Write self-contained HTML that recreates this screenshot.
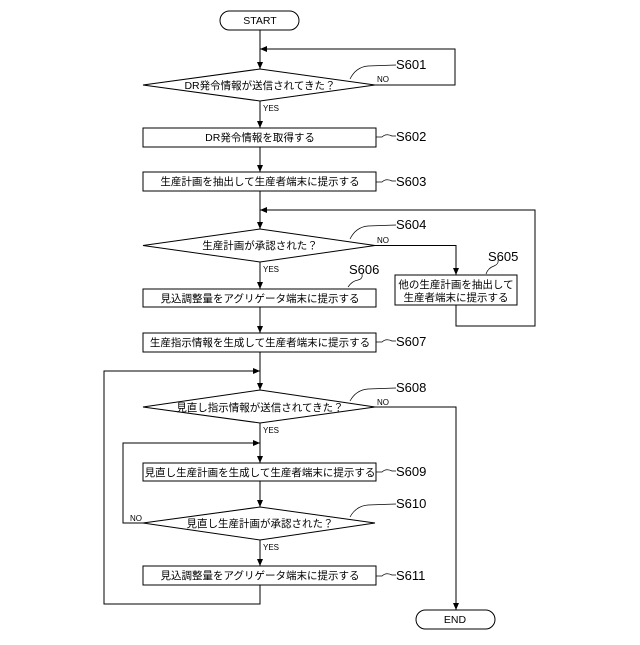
<!DOCTYPE html>
<html><head><meta charset="utf-8"><style>body{margin:0;background:#fff}</style></head><body>
<svg width="640" height="640" viewBox="0 0 640 640" xmlns="http://www.w3.org/2000/svg" font-family="'Liberation Sans','Noto Sans CJK JP',sans-serif">
<defs><marker id="a" markerWidth="8" markerHeight="8" refX="7" refY="4" orient="auto" markerUnits="userSpaceOnUse"><path d="M0,1 L7,4 L0,7z" fill="#000"/></marker></defs>
<g fill="none" stroke="#000" stroke-width="1">
<rect x="220" y="11" width="79" height="19" rx="9.5"/>
<rect x="416" y="610" width="79" height="19" rx="9.5"/>
<polygon points="143,85 260,69 375,85 260,101"/>
<polygon points="143,245.5 260,229 375,245.5 260,262"/>
<polygon points="143,407 260,390 375,407 260,423"/>
<polygon points="143,523 260,507 375,523 260,540"/>
<rect x="143" y="128" width="233" height="19"/>
<rect x="143" y="172" width="233" height="19"/>
<rect x="143" y="289" width="233" height="18"/>
<rect x="395" y="275" width="122" height="30"/>
<rect x="143" y="333" width="233" height="19"/>
<rect x="143" y="463" width="233" height="18"/>
<rect x="143" y="566" width="233" height="19"/>
<line x1="260" y1="30" x2="260" y2="69" marker-end="url(#a)"/>
<polyline points="375,85 455,85 455,49 260,49" marker-end="url(#a)"/>
<line x1="260" y1="101" x2="260" y2="128" marker-end="url(#a)"/>
<line x1="260" y1="147" x2="260" y2="172" marker-end="url(#a)"/>
<line x1="260" y1="191" x2="260" y2="229" marker-end="url(#a)"/>
<polyline points="456,305 456,326 535,326 535,210 260,210" marker-end="url(#a)"/>
<polyline points="375,245.5 456,245.5 456,275" marker-end="url(#a)"/>
<line x1="260" y1="262" x2="260" y2="289" marker-end="url(#a)"/>
<line x1="260" y1="307" x2="260" y2="333" marker-end="url(#a)"/>
<line x1="260" y1="352" x2="260" y2="390" marker-end="url(#a)"/>
<polyline points="260,585 260,604 104,604 104,371 260,371" marker-end="url(#a)"/>
<polyline points="375,407 456,407 456,610" marker-end="url(#a)"/>
<line x1="260" y1="423" x2="260" y2="463" marker-end="url(#a)"/>
<polyline points="143,523 123,523 123,443 260,443" marker-end="url(#a)"/>
<line x1="260" y1="481" x2="260" y2="507" marker-end="url(#a)"/>
<line x1="260" y1="540" x2="260" y2="566" marker-end="url(#a)"/>
<g stroke-width="0.7">
<path d="M350,79 Q356,67 368,66 L396,65"/>
<path d="M376,137 L382,137 Q386,133 392,136 L396,136"/>
<path d="M376,182 L382,182 Q386,178 392,181 L396,181"/>
<path d="M350,239 Q356,227 368,226 L396,225"/>
<path d="M348,287 Q352,281 358,280 Q363,279 362,274"/>
<path d="M486,274 Q488,268 494,266 Q499,264 498,260"/>
<path d="M376,342 L382,342 Q386,338 392,341 L396,341"/>
<path d="M350,401 Q356,390 368,389 L396,388"/>
<path d="M376,472 L382,472 Q386,468 392,471 L396,471"/>
<path d="M350,517 Q356,506 368,505 L396,504"/>
<path d="M376,576 L382,576 Q386,572 392,575 L396,575"/>
</g>
</g>
<g font-size="10.5" text-anchor="middle" fill="#000">
<text x="260" y="24">START</text>
<text x="455" y="623">END</text>
<text x="260" y="89">DR発令情報が送信されてきた？</text>
<text x="260" y="141">DR発令情報を取得する</text>
<text x="260" y="185">生産計画を抽出して生産者端末に提示する</text>
<text x="260" y="249">生産計画が承認された？</text>
<text x="260" y="302">見込調整量をアグリゲータ端末に提示する</text>
<text x="456" y="288">他の生産計画を抽出して</text>
<text x="456" y="301">生産者端末に提示する</text>
<text x="260" y="346">生産指示情報を生成して生産者端末に提示する</text>
<text x="260" y="411">見直し指示情報が送信されてきた？</text>
<text x="260" y="476">見直し生産計画を生成して生産者端末に提示する</text>
<text x="260" y="527">見直し生産計画が承認された？</text>
<text x="260" y="579">見込調整量をアグリゲータ端末に提示する</text>
</g>
<g font-size="8" fill="#000">
<text x="377" y="82">NO</text><text x="263" y="111">YES</text>
<text x="377" y="243">NO</text><text x="263" y="272">YES</text>
<text x="377" y="405">NO</text><text x="263" y="433">YES</text>
<text x="130" y="521">NO</text><text x="263" y="550">YES</text>
</g>
<g font-size="13" fill="#000">
<text x="396" y="69">S601</text><text x="396" y="141">S602</text><text x="396" y="186">S603</text>
<text x="396" y="229">S604</text><text x="488" y="261">S605</text><text x="349" y="274">S606</text>
<text x="396" y="346">S607</text><text x="396" y="392">S608</text><text x="396" y="476">S609</text>
<text x="396" y="508">S610</text><text x="396" y="580">S611</text>
</g>
</svg>
</body></html>
